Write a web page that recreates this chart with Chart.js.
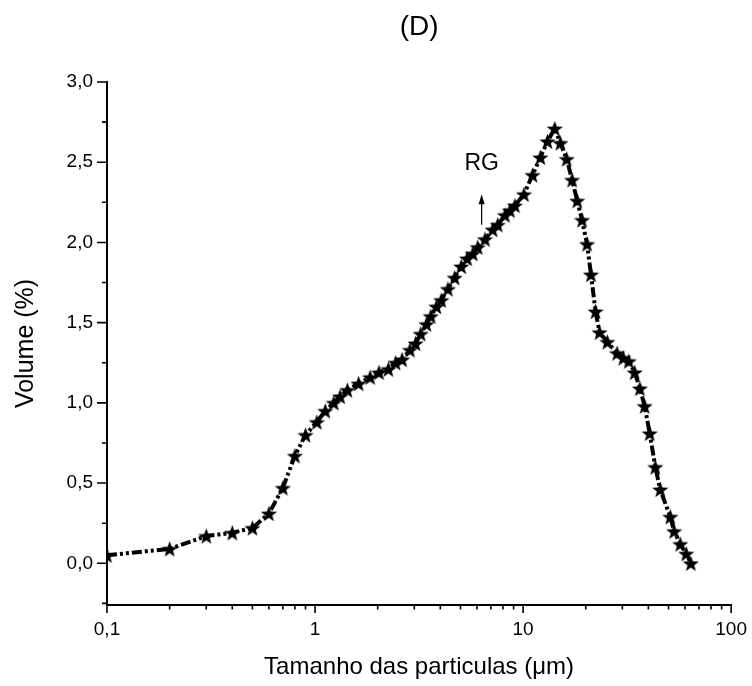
<!DOCTYPE html>
<html>
<head>
<meta charset="utf-8">
<script src="https://cdn.jsdelivr.net/npm/chart.js@4"></script>
<style>
html,body{margin:0;padding:0;background:#fff;}
#wrap{width:752px;height:686px;}
</style>
</head>
<body>
<div id="wrap"><canvas id="c" width="752" height="686"></canvas></div>
<script>
// ---- data ----
const sizes = [0.1, 0.2, 0.3, 0.4, 0.5, 0.6, 0.7, 0.8, 0.9, 1.02,
  1.12, 1.23, 1.32, 1.43, 1.62, 1.84, 2.03, 2.25, 2.44, 2.62,
  2.86, 3.04, 3.22, 3.43, 3.60, 3.83, 4.04, 4.35, 4.69, 5.04,
  5.38, 5.73, 6.05, 6.56, 7.14, 7.55, 8.18, 8.64, 9.13, 10.1,
  11.1, 12.1, 13.1, 14.2, 15.1, 16.2, 17.2, 18.2, 19.2, 20.3,
  21.2, 22.3, 23.3, 25.4, 28.3, 30.3, 32.2, 34.4, 36.4, 38.4,
  40.6, 43.2, 45.6, 51.0, 53.2, 56.9, 60.8, 64.0];
const volumes = [0.05, 0.09, 0.17, 0.19, 0.22, 0.31, 0.47, 0.67, 0.80, 0.88,
  0.95, 1.00, 1.04, 1.08, 1.12, 1.16, 1.19, 1.21, 1.25, 1.27,
  1.33, 1.37, 1.43, 1.49, 1.54, 1.60, 1.64, 1.71, 1.78, 1.85,
  1.90, 1.93, 1.97, 2.02, 2.08, 2.11, 2.17, 2.20, 2.23, 2.30,
  2.42, 2.53, 2.63, 2.71, 2.62, 2.52, 2.39, 2.26, 2.14, 1.99,
  1.80, 1.57, 1.44, 1.38, 1.31, 1.28, 1.26, 1.19, 1.09, 0.98,
  0.81, 0.60, 0.46, 0.29, 0.20, 0.12, 0.06, 0.00];
const xTickValues = [0.1, 1, 10, 100];
const xTickLabels = ['0,1', '1', '10', '100'];
const yTickValues = [0, 0.5, 1, 1.5, 2, 2.5, 3];
const yTickLabels = ['0,0', '0,5', '1,0', '1,5', '2,0', '2,5', '3,0'];
const chartTitle = '(D)';
const xTitle = 'Tamanho das particulas (\u03bcm)';
const yTitle = 'Volume (%)';
const annotationText = 'RG';

// ---- styling / annotation placement ----
const FONT = "Arial, 'Liberation Sans', sans-serif";
const annot = { x: 6.32, textY: 2.49, arrowTop: 2.30, arrowBottom: 2.11 };

function makeStar(r) {
  const s = Math.ceil(2 * r + 2);
  const c = document.createElement('canvas');
  c.width = s; c.height = s;
  const g = c.getContext('2d');
  g.beginPath();
  for (let i = 0; i < 10; i++) {
    const rad = (i % 2) ? r * 0.42 : r;
    const a = -Math.PI / 2 + i * Math.PI / 5;
    g.lineTo(s / 2 + rad * Math.cos(a), s / 2 + 0.8 + rad * Math.sin(a));
  }
  g.closePath();
  g.fillStyle = '#000';
  g.fill();
  return c;
}
const star = makeStar(8.5);

const tickPlugin = {
  id: 'customTicks',
  afterDraw(chart) {
    const ctx = chart.ctx;
    const xs = chart.scales.x, ys = chart.scales.y;
    const ca = chart.chartArea;
    ctx.save();
    // chart title, centred over the plot area
    ctx.fillStyle = '#000';
    ctx.font = '28px ' + FONT;
    ctx.textAlign = 'center';
    ctx.textBaseline = 'middle';
    ctx.fillText(chartTitle, (ca.left + ca.right) / 2, 27);
    // axis ticks
    ctx.strokeStyle = '#000';
    ctx.lineWidth = 1.6;
    ctx.beginPath();
    const xb = ys.bottom;
    for (let d = 0.1; d < 99; d *= 10) {
      for (let m = 1; m <= 9; m++) {
        const v = d * m;
        const px = xs.getPixelForValue(v);
        const len = m === 1 ? 8 : 4.5;
        ctx.moveTo(px, xb);
        ctx.lineTo(px, xb + len);
      }
    }
    const p100 = xs.getPixelForValue(100);
    ctx.moveTo(p100, xb); ctx.lineTo(p100, xb + 8);
    const yl = xs.left;
    for (let k = -1; k <= 12; k++) {
      const v = k * 0.25;
      const py = ys.getPixelForValue(v);
      const len = (k % 2 === 0) ? 10 : 5;
      ctx.moveTo(yl, py);
      ctx.lineTo(yl - len, py);
    }
    ctx.stroke();
    ctx.restore();
  },
  afterDatasetsDraw(chart) {
    const ctx = chart.ctx;
    const xs = chart.scales.x, ys = chart.scales.y;
    const ax = xs.getPixelForValue(annot.x);
    const tyTop = ys.getPixelForValue(annot.arrowTop);
    const tyBot = ys.getPixelForValue(annot.arrowBottom);
    ctx.save();
    ctx.fillStyle = '#000';
    ctx.strokeStyle = '#000';
    ctx.font = '23px ' + FONT;
    ctx.textAlign = 'center';
    ctx.textBaseline = 'middle';
    ctx.fillText(annotationText, ax, ys.getPixelForValue(annot.textY));
    ctx.lineWidth = 1.2;
    ctx.beginPath();
    ctx.moveTo(ax, tyBot);
    ctx.lineTo(ax, tyTop + 8);
    ctx.stroke();
    ctx.beginPath();
    ctx.moveTo(ax, tyTop);
    ctx.lineTo(ax - 3, tyTop + 10);
    ctx.lineTo(ax + 3, tyTop + 10);
    ctx.closePath();
    ctx.fill();
    ctx.restore();
  }
};

new Chart(document.getElementById('c'), {
  type: 'line',
  data: {
    datasets: [{
      data: sizes.map((s, i) => ({ x: s, y: volumes[i] })),
      borderColor: '#000',
      borderWidth: 4,
      borderDash: [10, 3, 3, 3, 3, 3],
      tension: 0,
      pointStyle: star,
      pointRadius: 8,
      pointHoverRadius: 8,
      pointBackgroundColor: '#000',
      fill: false
    }]
  },
  options: {
    responsive: false,
    animation: false,
    devicePixelRatio: 1,
    layout: { padding: { left: 0, right: 17, top: 82, bottom: 0 } },
    plugins: {
      legend: { display: false },
      tooltip: { enabled: false },
      title: { display: false }
    },
    scales: {
      x: {
        type: 'logarithmic',
        min: 0.1,
        max: 100,
        afterBuildTicks: s => { s.ticks = xTickValues.map(v => ({ value: v, major: true })); },
        ticks: {
          callback: v => { const i = xTickValues.findIndex(t => Math.abs(t - v) < 1e-9); return i >= 0 ? xTickLabels[i] : ''; },
          autoSkip: false,
          maxRotation: 0,
          color: '#000',
          font: { family: FONT, size: 19 },
          padding: 5
        },
        grid: { drawOnChartArea: false, drawTicks: true, tickLength: 8, color: 'rgba(0,0,0,0)', tickColor: 'rgba(0,0,0,0)' },
        border: { display: true, color: '#000', width: 2 },
        title: { display: true, text: xTitle, color: '#000', font: { family: FONT, size: 24 }, padding: { top: 0, bottom: 4 } },
        afterFit: s => { s.height = 81; }
      },
      y: {
        type: 'linear',
        min: -0.26,
        max: 3.0,
        afterBuildTicks: s => { s.ticks = yTickValues.map(v => ({ value: v })); },
        ticks: {
          callback: v => { const i = yTickValues.findIndex(t => Math.abs(t - v) < 1e-9); return i >= 0 ? yTickLabels[i] : ''; },
          color: '#000',
          font: { family: FONT, size: 19 },
          padding: 4
        },
        grid: { drawOnChartArea: false, drawTicks: true, tickLength: 10, color: 'rgba(0,0,0,0)', tickColor: 'rgba(0,0,0,0)' },
        border: { display: true, color: '#000', width: 2 },
        title: { display: true, text: yTitle, color: '#000', font: { family: FONT, size: 25 }, padding: { top: 11, bottom: 0 } },
        afterFit: s => { s.width = 107; }
      }
    }
  },
  plugins: [tickPlugin]
});
</script>
</body>
</html>
